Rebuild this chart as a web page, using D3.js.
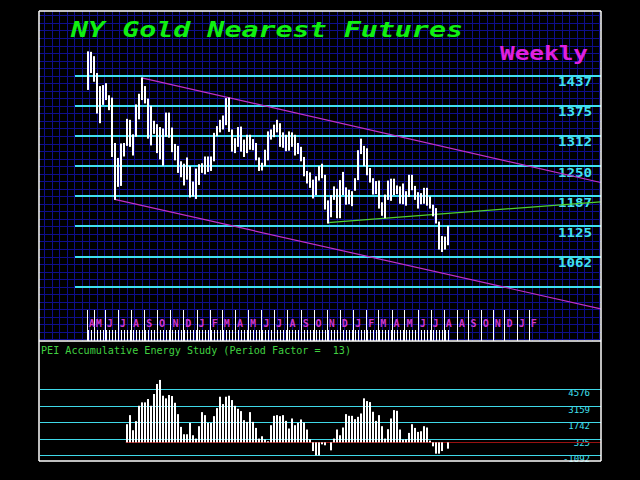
<!DOCTYPE html>
<html><head><meta charset="utf-8">
<script src="https://cdn.jsdelivr.net/npm/d3@7/dist/d3.min.js"></script>
<style>html,body{margin:0;padding:0;background:#000;overflow:hidden}</style>
</head><body><svg id="c" width="640" height="480"></svg>
<script>
// ---- data (weekly NY gold, week 0 = late April 2013) ----
const highs = [
1488,1487,1478,1443,1416,1418,1422,1397,1392,1298,
1267,1297,1298,1348,1346,1316,1378,1400,1434,1416,
1390,1375,1344,1337,1331,1328,1361,1361,1330,1296,
1292,1260,1255,1268,1250,1218,1245,1254,1256,1270,
1270,1270,1319,1333,1346,1355,1391,1392,1326,1308,
1331,1332,1305,1315,1315,1306,1298,1268,1257,1284,
1322,1326,1336,1346,1339,1320,1315,1322,1320,1315,
1298,1290,1269,1240,1237,1222,1229,1250,1255,1232,
1179,1190,1208,1203,1221,1238,1206,1201,1198,1225,
1283,1307,1292,1287,1246,1225,1219,1220,1175,1191,
1220,1224,1224,1210,1208,1214,1198,1232,1232,1209,
1196,1194,1205,1205,1187,1170,1163,1135,1105,1104,
1126];
const lows = [
1408,1443,1425,1359,1339,1377,1387,1366,1269,1180,
1207,1209,1270,1292,1290,1272,1311,1347,1387,1380,
1307,1293,1317,1277,1264,1251,1311,1309,1279,1262,
1236,1227,1210,1222,1185,1187,1182,1211,1236,1233,
1238,1240,1260,1312,1320,1326,1335,1321,1280,1277,
1290,1280,1269,1277,1284,1283,1262,1240,1241,1250,
1262,1305,1310,1320,1290,1288,1281,1282,1290,1272,
1275,1260,1229,1214,1205,1183,1190,1220,1225,1160,
1131,1144,1180,1142,1142,1190,1170,1171,1167,1199,
1221,1275,1250,1231,1216,1191,1192,1162,1147,1142,
1180,1178,1190,1192,1172,1171,1168,1186,1200,1180,
1162,1171,1172,1168,1162,1146,1131,1077,1072,1077,
1086];
// Accumulative energy study, first value at week 13
const energyStart = 13;
const energy = [
1566,2347,1045,1826,3154,3449,3449,3735,3154,4169,
5036,5383,4022,3795,4082,3995,3414,2434,1333,698,
698,1680,612,325,1392,2607,2347,1680,1680,2260,
2954,3934,3301,3934,4022,3648,3154,2893,2694,1913,
1766,2607,1766,1245,325,525,238,91,1479,2286,
2347,2260,2347,1852,1193,2060,1479,1680,1974,1706,
1106,265,-750,-1123,-1123,-170,-256,0,-690,325,
1106,612,1280,2434,2286,2286,2000,2200,2492,3795,
3561,3474,2636,1852,2347,1392,325,1132,2060,2780,
2720,1106,238,265,813,1566,1245,900,958,1392,
1280,150,-343,-977,-977,-750,0,-545];
const priceLevels = [1437.5,1375,1312.5,1250,1187.5,1125,1062.5,1000];
const priceLabels = ["1437","1375","1312","1250","1187","1125","1062",""];
const energyLevels = [4576,3159,1742,325,-1092];
const energyLabels = ["4576","3159","1742","325","-1092"];
const monthLabels = ["A","M","J","J","A","S","O","N","D","J","F","M","A","M","J","J","A","S","O","N","D","J","F","M","A","M","J","J","A","A","S","O","N","D","J","F"];
const monthWeeks = [-0.3,2,5.71,10,14.43,18.86,23.14,27.57,31.86,36.29,40.71,44.71,49.14,53.43,57.86,62.14,66.57,71,75.29,79.71,84,88.43,92.86,96.86,101.29,105.57,110,114.29,118.71,123,126.9,131,135,138.9,143,147];
const upperTrend = [[18,1433],[171,1216]];
const lowerTrend = [[9,1181],[171,954]];
const supportTrend = [[80,1133],[171,1176]];

// ---- layout ----
const L=39, R=601, T=11, B=341, B2=461;
const svg = d3.select("#c");
const x = d3.scaleLinear().domain([0,120]).range([87.7,447.7]);
const y = d3.scaleLinear().domain([1000,1437.5]).range([286.7,75.7]);
const ye = d3.scaleLinear().domain([-1092,4576]).range([455,389.3]);
const mono = "'DejaVu Sans Mono', 'Liberation Mono', monospace";

svg.append("rect").attr("width",640).attr("height",480).attr("fill","#000");
svg.append("defs").append("clipPath").attr("id","topclip")
  .append("rect").attr("x",L).attr("y",T).attr("width",R-L).attr("height",B-T);

const topG = svg.append("g").attr("clip-path","url(#topclip)");
// grid
const gridStep = 62.5/4;
const gy = d3.range(-40,12).map(k=>1437.5+k*gridStep).map(v=>Math.round(y(v))+0.5).filter(v=>v>T&&v<B);
topG.selectAll(".gh").data(gy).join("line").attr("x1",L).attr("x2",R).attr("y1",d=>d).attr("y2",d=>d)
  .attr("stroke","#0e0e8c").attr("stroke-width",1);
const gx = d3.range(0,80).map(k=>89-7.5*6+k*7.5).map(v=>Math.round(v)+0.5).filter(v=>v>L&&v<R);
topG.selectAll(".gv").data(gx).join("line").attr("y1",T).attr("y2",B).attr("x1",d=>d).attr("x2",d=>d)
  .attr("stroke","#0e0e8c").attr("stroke-width",1);

// price levels
topG.selectAll(".lv").data(priceLevels).join("line").attr("x1",75).attr("x2",R)
  .attr("y1",d=>Math.round(y(d))).attr("y2",d=>Math.round(y(d)))
  .attr("stroke","#3fe0f0").attr("stroke-width",2.2);
topG.selectAll(".lt").data(priceLevels).join("text")
  .attr("x",592).attr("y",d=>y(d)+10.5).attr("text-anchor","end")
  .attr("font-family",mono).attr("font-weight","bold").attr("font-size",13)
  .attr("textLength",34).attr("lengthAdjust","spacingAndGlyphs")
  .attr("fill","#40e0f0").text((d,i)=>priceLabels[i]);

// trend lines
const line = d3.line().x(d=>x(d[0])).y(d=>y(d[1]));
topG.append("path").attr("d",line(upperTrend)).attr("stroke","#c030c8").attr("stroke-width",1.2).attr("fill","none");
topG.append("path").attr("d",line(lowerTrend)).attr("stroke","#c030c8").attr("stroke-width",1.2).attr("fill","none");
topG.append("path").attr("d",line(supportTrend)).attr("stroke","#50d030").attr("stroke-width",1.2).attr("fill","none");

// price bars
topG.selectAll(".bar").data(highs).join("rect")
  .attr("x",(d,i)=>Math.round(x(i))-1).attr("width",2)
  .attr("y",d=>y(d)).attr("height",(d,i)=>y(lows[i])-y(d))
  .attr("fill","#fff");

// month ticks & labels
topG.selectAll(".wt").data(highs).join("line")
  .attr("x1",(d,i)=>Math.round(x(i))+0.5).attr("x2",(d,i)=>Math.round(x(i))+0.5)
  .attr("y1",330).attr("y2",B).attr("stroke","#fff").attr("stroke-width",1);
topG.selectAll(".mt").data(monthWeeks).join("line")
  .attr("x1",d=>Math.round(x(d))+0.5).attr("x2",d=>Math.round(x(d))+0.5)
  .attr("y1",310).attr("y2",B).attr("stroke","#fff").attr("stroke-width",1);
topG.selectAll(".ml").data(monthWeeks).join("text")
  .attr("x",d=>x(d)+2).attr("y",326.5)
  .attr("font-family",mono).attr("font-weight","bold").attr("font-size",10)
  .attr("fill","#d038d0").text((d,i)=>monthLabels[i]);

// title
svg.append("text").attr("x",71).attr("y",36.5).attr("font-family",mono)
  .attr("font-weight","bold").attr("font-style","italic").attr("font-size",22)
  .attr("textLength",392).attr("lengthAdjust","spacingAndGlyphs")
  .attr("fill","#10f010").text("NY Gold Nearest Futures");
svg.append("text").attr("x",500).attr("y",59.5).attr("font-family",mono)
  .attr("font-weight","bold").attr("font-size",19)
  .attr("textLength",88).attr("lengthAdjust","spacingAndGlyphs")
  .attr("fill","#e020e0").text("Weekly");

// lower panel
svg.selectAll(".el").data(energyLevels).join("line").attr("x1",L+1).attr("x2",R)
  .attr("y1",d=>Math.round(ye(d))+0.5).attr("y2",d=>Math.round(ye(d))+0.5)
  .attr("stroke","#3fd8e8").attr("stroke-width",1);
svg.selectAll(".etx").data(energyLevels).join("text")
  .attr("x",590).attr("y",d=>ye(d)+7).attr("text-anchor","end")
  .attr("font-family",mono).attr("font-size",9)
  .attr("fill","#40e0f0").text((d,i)=>energyLabels[i]);
svg.append("line").attr("x1",x(energyStart)-1).attr("x2",R)
  .attr("y1",Math.round(ye(0))+0.5).attr("y2",Math.round(ye(0))+0.5)
  .attr("stroke","#9a1010").attr("stroke-width",1);
svg.selectAll(".eb").data(energy).join("rect")
  .attr("x",(d,i)=>Math.round(x(i+energyStart))-1).attr("width",2)
  .attr("y",d=>Math.min(ye(0),ye(d))).attr("height",d=>Math.abs(ye(d)-ye(0)))
  .attr("fill","#fff");
svg.append("text").attr("x",41).attr("y",353.5).attr("font-family",mono).attr("font-size",10)
  .attr("fill","#40d040").attr("xml:space","preserve")
  .attr("textLength",310).attr("lengthAdjust","spacingAndGlyphs")
  .text("PEI Accumulative Energy Study (Period Factor =  13)");

// frames
const fr = svg.append("g").attr("stroke","#fff").attr("stroke-width",1.5).attr("fill","none");
fr.append("line").attr("x1",L).attr("x2",R).attr("y1",T).attr("y2",T);
fr.append("line").attr("x1",L).attr("x2",L).attr("y1",T).attr("y2",B2);
fr.append("line").attr("x1",R).attr("x2",R).attr("y1",T).attr("y2",B2);
fr.append("line").attr("x1",L).attr("x2",R).attr("y1",B).attr("y2",B);
fr.append("line").attr("x1",L).attr("x2",R).attr("y1",B2).attr("y2",B2);
</script></body></html>
